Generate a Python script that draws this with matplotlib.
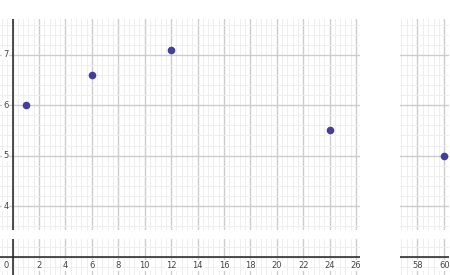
import numpy as np
import matplotlib.pyplot as plt
from matplotlib.ticker import MultipleLocator

# --- dati ---
x_vals = [1, 6, 12, 24, 60]
y_vals = [6, 6.6, 7.1, 5.5, 5]
x_ticks_left = [2, 4, 6, 8, 10, 12, 14, 16, 18, 20, 22, 24, 26]
x_ticks_right = [58, 60]
y_ticks = [4, 5, 6, 7]

POINT_COLOR = "#463ca0"
LABEL_COLOR = "#444444"
MAJOR = "#cccccc"
MINOR = "#eeeeee"

fig = plt.figure(figsize=(4.5, 2.75), dpi=100)

ax_main = fig.add_axes([0, 45 / 275, 360 / 450, 211 / 275])
ax_right = fig.add_axes([400 / 450, 45 / 275, 49 / 450, 211 / 275])
ax_bl = fig.add_axes([0, 0, 360 / 450, 36 / 275])
ax_br = fig.add_axes([400 / 450, 0, 49 / 450, 36 / 275])

xlim_left = (-0.95, 26.3)
xlim_right = (56.7, 60.35)
ylim_top = (3.525, 7.71)
ylim_bot = (-0.36, 0.35)


def style(ax, xlim, ylim):
    ax.set_xlim(*xlim)
    ax.set_ylim(*ylim)
    ax.xaxis.set_major_locator(MultipleLocator(2))
    ax.xaxis.set_minor_locator(MultipleLocator(0.4))
    ax.yaxis.set_major_locator(MultipleLocator(1))
    ax.yaxis.set_minor_locator(MultipleLocator(0.2))
    ax.grid(True, which="minor", color=MINOR, linewidth=0.7)
    ax.grid(True, which="major", color=MAJOR, linewidth=1.0)
    ax.set_axisbelow(True)
    ax.tick_params(which="both", length=0, labelbottom=False, labelleft=False)
    for s in ax.spines.values():
        s.set_visible(False)


style(ax_main, xlim_left, ylim_top)
style(ax_right, xlim_right, ylim_top)
style(ax_bl, xlim_left, ylim_bot)
style(ax_br, xlim_right, ylim_bot)

# assi neri
ax_main.axvline(0, color="#222222", linewidth=1.1)
ax_bl.axvline(0, color="#222222", linewidth=1.1)
ax_bl.axhline(0, color="#222222", linewidth=1.1)
ax_br.axhline(0, color="#222222", linewidth=1.1)

# punti
ax_main.scatter(x_vals, y_vals, s=20, color=POINT_COLOR, zorder=5, clip_on=False)
ax_right.scatter(x_vals, y_vals, s=20, color=POINT_COLOR, zorder=5, clip_on=True)

lbl = dict(fontsize=6, color=LABEL_COLOR,
           bbox=dict(fc="white", ec="none", pad=0.6))

for yv in y_ticks:
    ax_main.annotate(str(yv), (0, yv), xytext=(-3, 0), textcoords="offset points",
                     ha="right", va="center", **lbl)

for xv in x_ticks_left:
    ax_bl.annotate(str(xv), (xv, 0), xytext=(0, -3), textcoords="offset points",
                   ha="center", va="top", **lbl)
ax_bl.annotate("0", (0, 0), xytext=(-3, -3), textcoords="offset points",
               ha="right", va="top", **lbl)

for xv in x_ticks_right:
    ax_br.annotate(str(xv), (xv, 0), xytext=(0, -3), textcoords="offset points",
                   ha="center", va="top", **lbl)

fig.savefig("out.png", dpi=100)
